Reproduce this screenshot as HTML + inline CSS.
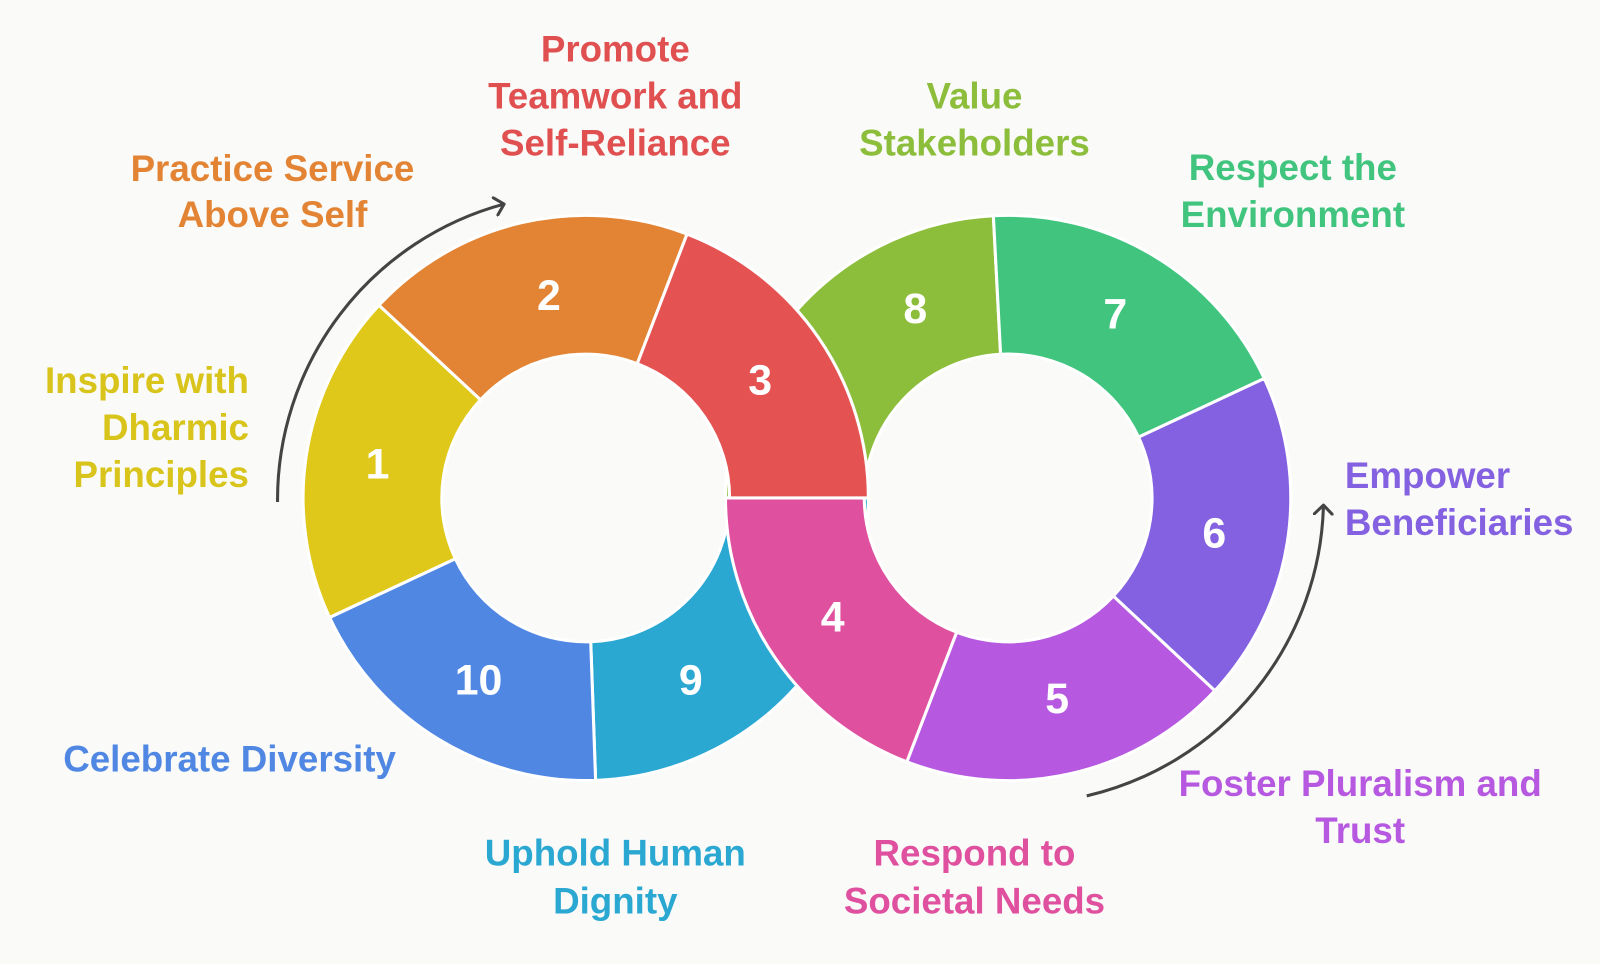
<!DOCTYPE html>
<html><head><meta charset="utf-8"><style>
html,body{margin:0;padding:0;background:#fafaf9;}
svg{display:block}
text{font-family:"Liberation Sans",sans-serif;font-weight:bold;}
</style></head><body>
<svg id="s" width="1600" height="964" viewBox="0 0 1600 964" xmlns="http://www.w3.org/2000/svg">
<rect width="1600" height="964" fill="#fafaf9"/>
<g transform="scale(1.0204)">
<g id="segs"></g>
<g font-size="42" fill="#fff" text-anchor="middle" dominant-baseline="central">
<text x="370" y="455">1</text><text x="538" y="290">2</text><text x="745" y="373">3</text>
<text x="816" y="605">4</text><text x="1036" y="685">5</text><text x="1190" y="523">6</text>
<text x="1093" y="308">7</text><text x="897" y="303">8</text><text x="677" y="667">9</text>
<text x="469" y="667">10</text>
</g>
<defs><marker id="ah" markerWidth="16" markerHeight="20" refX="10" refY="10" orient="auto" markerUnits="userSpaceOnUse"><path d="M1,1 L10,10 L1,19" fill="none" stroke="#444" stroke-width="3" stroke-linecap="round" stroke-linejoin="round"/></marker></defs>
<path d="M272,492 A300,300 0 0 1 494,200" fill="none" stroke="#444" stroke-width="3" marker-end="url(#ah)"/>
<path d="M1065,780 A300,300 0 0 0 1297,495" fill="none" stroke="#444" stroke-width="3" marker-end="url(#ah)"/>
<g font-size="36" text-anchor="middle" dominant-baseline="central">
<g fill="#e38434"><text x="267" y="165">Practice Service</text><text x="267" y="210">Above Self</text></g>
<g fill="#e05050"><text x="603" y="48">Promote</text><text x="603" y="94">Teamwork and</text><text x="603" y="140">Self-Reliance</text></g>
<g fill="#8cbe3c"><text x="955" y="94">Value</text><text x="955" y="140">Stakeholders</text></g>
<g fill="#40c47e"><text x="1267" y="164">Respect the</text><text x="1267" y="210">Environment</text></g>
<g fill="#d8c41a" text-anchor="end"><text x="244" y="373">Inspire with</text><text x="244" y="419">Dharmic</text><text x="244" y="465">Principles</text></g>
<g fill="#8361e0" text-anchor="start"><text x="1318" y="466">Empower</text><text x="1318" y="512">Beneficiaries</text></g>
<g fill="#4f87e3"><text x="225" y="744">Celebrate Diversity</text></g>
<g fill="#2aa8d2"><text x="603" y="836">Uphold Human</text><text x="603" y="883">Dignity</text></g>
<g fill="#df509e"><text x="955" y="836">Respond to</text><text x="955" y="883">Societal Needs</text></g>
<g fill="#b659e0"><text x="1333" y="768">Foster Pluralism and</text><text x="1333" y="814">Trust</text></g>
</g>
</g>
</svg>
<script>
(function(){
var R=277,r=141,L=[574,488],Rc=[988,488];
function seg(c,a0,a1,col){
 var t0=a0*Math.PI/180,t1=a1*Math.PI/180,large=(a1-a0)>180?1:0;
 function p(rad,t){return (c[0]+rad*Math.cos(t)).toFixed(1)+","+(c[1]+rad*Math.sin(t)).toFixed(1);}
 var d="M"+p(R,t0)+" A"+R+","+R+" 0 "+large+" 1 "+p(R,t1)+" L"+p(r,t1)+" A"+r+","+r+" 0 "+large+" 0 "+p(r,t0)+" Z";
 return '<path d="'+d+'" fill="'+col+'" stroke="#fff" stroke-width="3" stroke-linejoin="round"/>';
}
var h="";
h+=seg(L,0,88,"#2aa8d2");
h+=seg(Rc,180,267,"#8cbe3c");
h+=seg(L,88,155,"#4f87e3");
h+=seg(L,155,223,"#dfc81a");
h+=seg(L,223,291,"#e38434");
h+=seg(Rc,267,335,"#40c47e");
h+=seg(Rc,335,403,"#8361e0");
h+=seg(Rc,43,111,"#b659e0");
h+=seg(Rc,111,180,"#df509e");
h+=seg(L,291,360,"#e55252");
document.getElementById("segs").innerHTML=h;
})();
</script>
</body></html>
